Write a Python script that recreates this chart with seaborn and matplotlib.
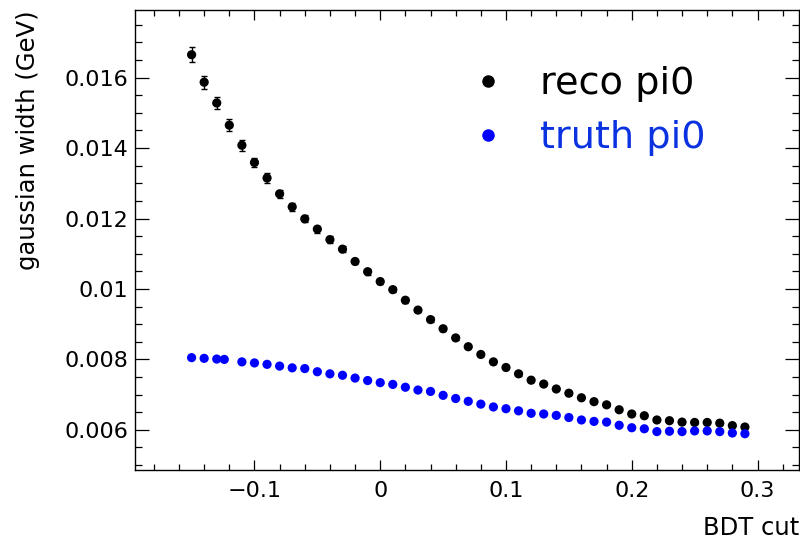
import matplotlib
matplotlib.use("Agg")
import matplotlib.pyplot as plt
from matplotlib.lines import Line2D
from matplotlib.ticker import MultipleLocator
import seaborn as sns
import pandas as pd

# BDT cut scan: fitted gaussian width of the pi0 peak
reco_cut = [-0.15, -0.14, -0.13, -0.12, -0.11, -0.10, -0.09, -0.08, -0.07, -0.06,
            -0.05, -0.04, -0.03, -0.02, -0.01, 0.00, 0.01, 0.02, 0.03, 0.04,
            0.05, 0.06, 0.07, 0.08, 0.09, 0.10, 0.11, 0.12, 0.13, 0.14,
            0.15, 0.16, 0.17, 0.18, 0.19, 0.20, 0.21, 0.22, 0.23, 0.24,
            0.25, 0.26, 0.27, 0.28, 0.29]
reco_width = [0.01665, 0.01587, 0.01528, 0.01465, 0.01408, 0.01359, 0.01315, 0.01270, 0.01233, 0.01199,
              0.01170, 0.01140, 0.01113, 0.01078, 0.01049, 0.01021, 0.00998, 0.00968, 0.00940, 0.00913,
              0.00887, 0.00861, 0.00836, 0.00814, 0.00793, 0.00777, 0.00759, 0.00741, 0.00730, 0.00716,
              0.00704, 0.00691, 0.00680, 0.00671, 0.00657, 0.00645, 0.00640, 0.00628, 0.00626, 0.00622,
              0.00621, 0.00621, 0.00619, 0.00612, 0.00608]
reco_err = [0.00021, 0.00019, 0.00018, 0.00017, 0.00016, 0.00014, 0.00013, 0.00012, 0.00011, 0.00010,
            0.00010, 0.00009, 0.00009, 0.00008, 0.00008, 0.00007, 0.00007, 0.00007, 0.00006, 0.00006,
            0.00006, 0.00006, 0.00005, 0.00005, 0.00005, 0.00005, 0.00005, 0.00005, 0.00004, 0.00004,
            0.00004, 0.00004, 0.00004, 0.00004, 0.00004, 0.00004, 0.00004, 0.00004, 0.00004, 0.00004,
            0.00004, 0.00004, 0.00004, 0.00004, 0.00004]

truth_cut = [-0.15, -0.14, -0.13, -0.124, -0.11, -0.10, -0.09, -0.08, -0.07, -0.06,
             -0.05, -0.04, -0.03, -0.02, -0.01, 0.00, 0.01, 0.02, 0.03, 0.04,
             0.05, 0.06, 0.07, 0.08, 0.09, 0.10, 0.11, 0.12, 0.13, 0.14,
             0.15, 0.16, 0.17, 0.18, 0.19, 0.20, 0.21, 0.22, 0.23, 0.24,
             0.25, 0.26, 0.27, 0.28, 0.29]
truth_width = [0.00805, 0.00803, 0.00801, 0.00800, 0.00793, 0.00790, 0.00786, 0.00781, 0.00776, 0.00774,
               0.00765, 0.00759, 0.00755, 0.00747, 0.00740, 0.00734, 0.00729, 0.00721, 0.00713, 0.00709,
               0.00698, 0.00689, 0.00681, 0.00673, 0.00665, 0.00660, 0.00654, 0.00647, 0.00645, 0.00641,
               0.00635, 0.00628, 0.00624, 0.00622, 0.00613, 0.00606, 0.00603, 0.00595, 0.00596, 0.00595,
               0.00597, 0.00597, 0.00595, 0.00591, 0.00589]

series_labels = ["reco pi0", "truth pi0"]
series_colors = {"reco pi0": "#000000", "truth pi0": "#0000ff"}
label_colors = ["#000000", "#0a32e0"]

x_tick_values = [-0.1, 0, 0.1, 0.2, 0.3]
x_tick_labels = ["\u22120.1", "0", "0.1", "0.2", "0.3"]
y_tick_values = [0.006, 0.008, 0.01, 0.012, 0.014, 0.016]
y_tick_labels = ["0.006", "0.008", "0.01", "0.012", "0.014", "0.016"]

df = pd.concat([
    pd.DataFrame({"cut": reco_cut, "width": reco_width, "sample": series_labels[0]}),
    pd.DataFrame({"cut": truth_cut, "width": truth_width, "sample": series_labels[1]}),
], ignore_index=True)

sns.set_style("ticks")
plt.rcParams["font.family"] = ["DejaVu Sans"]
plt.rcParams["text.color"] = "black"
plt.rcParams["axes.labelcolor"] = "black"
plt.rcParams["xtick.color"] = "black"
plt.rcParams["ytick.color"] = "black"

fig = plt.figure(figsize=(8, 5.4), dpi=100)
ax = fig.add_axes([135 / 800, 1 - 470 / 540, 664 / 800, 460 / 540])

ax.errorbar(reco_cut, reco_width, yerr=reco_err, fmt="none", ecolor="black",
            elinewidth=1.0, capsize=2.5, capthick=1.0, zorder=2)
sns.scatterplot(data=df, x="cut", y="width", hue="sample", palette=series_colors,
                s=44, edgecolor="none", linewidth=0, legend=False, ax=ax, zorder=3)

ax.set_xlim(-0.195, 0.333)
ax.set_ylim(0.00486, 0.01792)
ax.xaxis.set_minor_locator(MultipleLocator(0.02))
ax.yaxis.set_minor_locator(MultipleLocator(0.0005))
ax.set_xticks(x_tick_values)
ax.set_xticklabels(x_tick_labels)
ax.set_yticks(y_tick_values)
ax.set_yticklabels(y_tick_labels)

for side in ["top", "right", "bottom", "left"]:
    ax.spines[side].set_visible(True)
    ax.spines[side].set_linewidth(1.0)
    ax.spines[side].set_color("black")

ax.tick_params(axis="x", which="both", direction="in", top=True, bottom=True,
               width=0.9, color="black", labelcolor="black", labelsize=16, pad=8)
ax.tick_params(axis="x", which="major", length=7.5)
ax.tick_params(axis="x", which="minor", length=4)
ax.tick_params(axis="y", which="both", direction="in", left=True, right=True,
               width=0.9, color="black", labelcolor="black", labelsize=16, pad=5)
ax.tick_params(axis="y", which="major", length=10)
ax.tick_params(axis="y", which="minor", length=5)

ax.set_xlabel("BDT cut", fontsize=17.5, loc="right", labelpad=11, color="black")
ax.set_ylabel("gaussian width (GeV)", fontsize=17.5, loc="top", color="black")
ax.yaxis.set_label_coords(-0.143, 1.0)

handles = [Line2D([], [], linestyle="none", marker="o", markersize=9,
                  markerfacecolor=series_colors[s], markeredgecolor="none")
           for s in series_labels]
leg = ax.legend(handles, series_labels, loc="upper left",
                bbox_to_anchor=(469 / 800, 1 - 66 / 540), bbox_transform=fig.transFigure,
                frameon=False, prop={"family": "DejaVu Sans", "size": 27.5},
                handlelength=1.0, handletextpad=0.85, borderpad=0, borderaxespad=0,
                labelspacing=0.48)
for txt, c in zip(leg.get_texts(), label_colors):
    txt.set_color(c)

fig.savefig("out.png", dpi=100)
